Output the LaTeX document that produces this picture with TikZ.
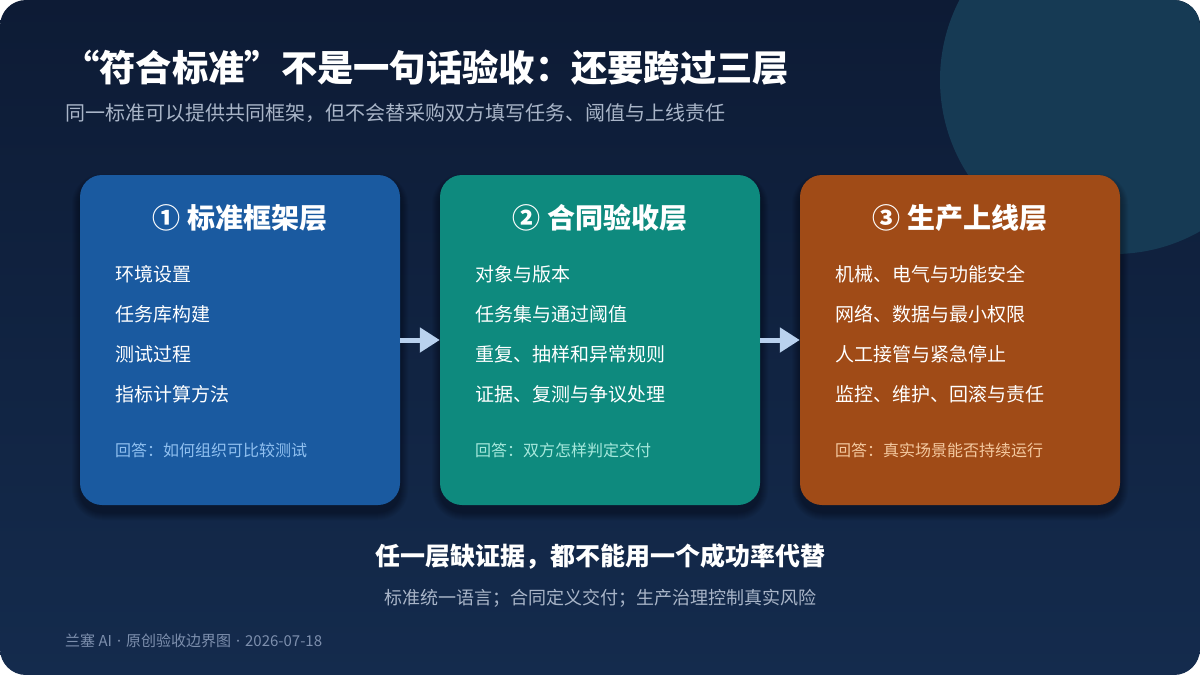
\documentclass[tikz,border=0pt]{standalone}
\usepackage{fontspec}
\setmainfont{Noto Sans CJK SC}
\newfontfamily\latinsans{Noto Sans}
\usetikzlibrary{arrows.meta}
\definecolor{bgtop}{HTML}{0D1B35}
\definecolor{bgbot}{HTML}{142B4D}
\definecolor{circ}{HTML}{163A54}
\definecolor{cardA}{HTML}{1A5AA0}
\definecolor{cardB}{HTML}{0E8A7E}
\definecolor{cardC}{HTML}{A04B17}
\definecolor{ansA}{HTML}{90C0F0}
\definecolor{ansB}{HTML}{A6E8DC}
\definecolor{ansC}{HTML}{F4C9A0}
\definecolor{subgrey}{HTML}{A9B5C8}
\definecolor{footgrey}{HTML}{7D8FAD}
\definecolor{arrowc}{HTML}{B9D1EE}
\tikzset{
  card/.style={rounded corners=22pt, minimum width=320pt, minimum height=330pt, inner sep=0pt},
  cardtitle/.style={white, font=\bfseries\fontsize{28}{32}\selectfont, inner sep=0pt},
  item/.style={anchor=west, white, font=\fontsize{19}{23}\selectfont, inner sep=0pt},
  answer/.style={anchor=west, font=\fontsize{16}{20}\selectfont, inner sep=0pt},
  arr/.style={draw=arrowc, line width=5pt, -{Triangle[length=20pt,width=24pt]}, shorten >=0pt},
  softshadow/.style={fill=black, opacity=0.045},
}
\newcommand{\footdot}{\hspace{5pt}{\latinsans ·}\hspace{5pt}}
\begin{document}
\begin{tikzpicture}[x=1pt,y=-1pt]
\useasboundingbox (0,0) rectangle (1200,675);
\fill[white] (0,0) rectangle (1200,675);
\begin{scope}
\path[clip, rounded corners=26pt] (0,0) rectangle (1200,675);
\shade[top color=bgtop, bottom color=bgbot] (0,0) rectangle (1200,675);
\fill[circ] (1114,80) circle[radius=174pt];
\end{scope}

\node[anchor=west, white, font=\bfseries\fontsize{36.3}{42}\selectfont, inner sep=0pt] (head) at (63,68) {“符合标准”不是一句话验收：还要跨过三层};
\node[anchor=west, subgrey, font=\fontsize{20}{24}\selectfont, inner sep=0pt] (subhead) at (65,113) {同一标准可以提供共同框架，但不会替采购双方填写任务、阈值与上线责任};

\foreach \n/\cx/\fc/\ac/\t/\ia/\ib/\ic/\id/\ans in {
 1/240/cardA/ansA/{① 标准框架层}/环境设置/任务库构建/测试过程/指标计算方法/{回答：如何组织可比较测试},
 2/600/cardB/ansB/{② 合同验收层}/对象与版本/任务集与通过阈值/{重复、抽样和异常规则}/{证据、复测与争议处理}/{回答：双方怎样判定交付},
 3/960/cardC/ansC/{③ 生产上线层}/{机械、电气与功能安全}/{网络、数据与最小权限}/人工接管与紧急停止/{监控、维护、回滚与责任}/{回答：真实场景能否持续运行}
}{
  \foreach \k in {1,...,8}{
    \pgfmathsetmacro\rr{22+\k}
    \fill[softshadow, rounded corners=\rr pt] (\cx-160-\k,175-\k+7) rectangle (\cx+160+\k,505+\k+7);
  }
  \node[card, fill=\fc] (card\n) at (\cx,340) {};
  \node[cardtitle] (title\n) at (\cx,218) {\t};
  \node[item] (item\n a) at (\cx-125,274) {\ia};
  \node[item] (item\n b) at (\cx-125,314) {\ib};
  \node[item] (item\n c) at (\cx-125,354) {\ic};
  \node[item] (item\n d) at (\cx-125,394) {\id};
  \node[answer, text=\ac] (ans\n) at (\cx-125,450) {\ans};
}

\draw[arr] (card1.east) -- (card2.west);
\draw[arr] (card2.east) -- (card3.west);

\node[white, font=\bfseries\fontsize{25}{30}\selectfont, inner sep=0pt] (concl) at (600,557) {任一层缺证据，都不能用一个成功率代替};
\node[subgrey, font=\fontsize{18}{22}\selectfont, inner sep=0pt] (conclsub) at (600,598) {标准统一语言；合同定义交付；生产治理控制真实风险};
\node[anchor=west, footgrey, font=\fontsize{15}{18}\selectfont, inner sep=0pt] (foot) at (65,641) {兰塞 AI\footdot 原创验收边界图\footdot 2026-07-18};
\end{tikzpicture}
\end{document}
